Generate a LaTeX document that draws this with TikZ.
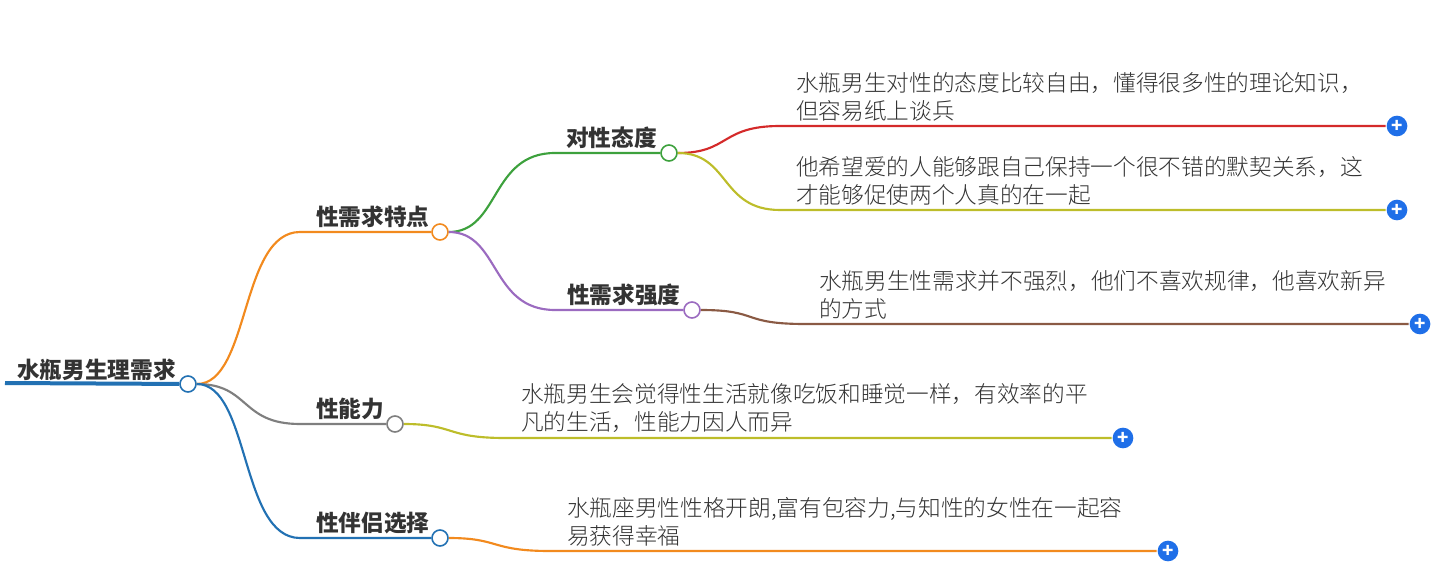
\documentclass[tikz,border=0pt]{standalone}
\usepackage{fontspec}
\setmainfont{Noto Sans CJK SC}
\newfontfamily\lightcjk{Noto Sans CJK SC Light}
\usetikzlibrary{positioning}
\definecolor{cRoot}{HTML}{2271B3}
\definecolor{cOrange}{HTML}{F28A1E}
\definecolor{cGreen}{HTML}{3DA13D}
\definecolor{cPurple}{HTML}{9B6BC0}
\definecolor{cRed}{HTML}{D42A2A}
\definecolor{cOlive}{HTML}{BDBD2A}
\definecolor{cBrown}{HTML}{8A5A44}
\definecolor{cGray}{HTML}{7F7F7F}
\definecolor{cPlus}{HTML}{1F6FE8}
\definecolor{cText}{HTML}{333333}
\begin{document}
\begin{tikzpicture}[x=0.75pt,y=-0.75pt,line width=1.6pt]
\tikzset{
knob/.style     = {draw, circle, fill=white, line width=1.2pt, minimum size=12pt, inner sep=0pt},
plusknob/.style = {circle, fill=cPlus, minimum size=15.5pt, inner sep=0pt, text=white, font=\bfseries\fontsize{14}{14}\selectfont},
topic/.style    = {font=\bfseries\fontsize{17}{17}\selectfont, text=cText, anchor=south west, inner sep=0pt},
leaf/.style     = {font=\lightcjk\fontsize{17}{21}\selectfont, text=cText, anchor=south west, align=left, inner sep=0pt},
}
\useasboundingbox (0,0) rectangle (1441,588);

    % Root
    \coordinate (rootstart) at (5,383);
    \node [knob, draw=cRoot] (root) at (188,384) {};
    \node [topic] at (16,382) {水瓶男生理需求};
    \draw [cRoot, line width=3pt] (rootstart) -- (root);

    % Main branches
    \node [knob, draw=cOrange] (sexneed) at (440,232) {};
    \node [knob, draw=cGray]   (ability) at (395,424) {};
    \node [knob, draw=cRoot]   (partner) at (440,538) {};
    \node [topic] at (315,229) {性需求特点};
    \node [topic] at (315,421) {性能力};
    \node [topic] at (315,535) {性伴侣选择};
    \draw [cOrange] (root) .. controls (250,384) and (240,232) .. (300,232) -- (sexneed);
    \draw [cGray]   (root) .. controls (250,384) and (240,424) .. (300,424) -- (ability);
    \draw [cRoot]   (root) .. controls (250,384) and (240,538) .. (300,538) -- (partner);

    % Sub branches
    \node [knob, draw=cGreen]  (attitude) at (669,153) {};
    \node [knob, draw=cPurple] (strength) at (692,310) {};
    \node [topic] at (565,150) {对性态度};
    \node [topic] at (566,307) {性需求强度};
    \draw [cGreen]  (sexneed) .. controls (500,232) and (490,153) .. (555,153) -- (attitude);
    \draw [cPurple] (sexneed) .. controls (500,232) and (490,310) .. (555,310) -- (strength);

    % Leaves
    \node [plusknob] (plusA) at (1397,126) {+};
    \node [plusknob] (plusB) at (1397,210) {+};
    \node [plusknob] (plusC) at (1420,324) {+};
    \node [plusknob] (plusD) at (1123,438) {+};
    \node [plusknob] (plusE) at (1168,551) {+};
    \draw [cRed]   (attitude) .. controls (730,153) and (720,126) .. (780,126) -- (plusA);
    \draw [cOlive] (attitude) .. controls (730,153) and (720,210) .. (780,210) -- (plusB);
    \draw [cBrown] (strength) .. controls (760,310) and (740,324) .. (805,324) -- (plusC);
    \draw [cOlive] (ability)  .. controls (455,424) and (445,438) .. (505,438) -- (plusD);
    \draw [cOrange] (partner) .. controls (500,538) and (490,551) .. (550,551) -- (plusE);
    \node [leaf] at (795,122) {水瓶男生对性的态度比较自由，懂得很多性的理论知识，\\但容易纸上谈兵};
    \node [leaf] at (795,206) {他希望爱的人能够跟自己保持一个很不错的默契关系，这\\才能够促使两个人真的在一起};
    \node [leaf] at (818,320) {水瓶男生性需求并不强烈，他们不喜欢规律，他喜欢新异\\的方式};
    \node [leaf] at (520,434) {水瓶男生会觉得性生活就像吃饭和睡觉一样，有效率的平\\凡的生活，性能力因人而异};
    \node [leaf] at (566,547) {水瓶座男性性格开朗,富有包容力,与知性的女性在一起容\\易获得幸福};
\end{tikzpicture}
\end{document}
